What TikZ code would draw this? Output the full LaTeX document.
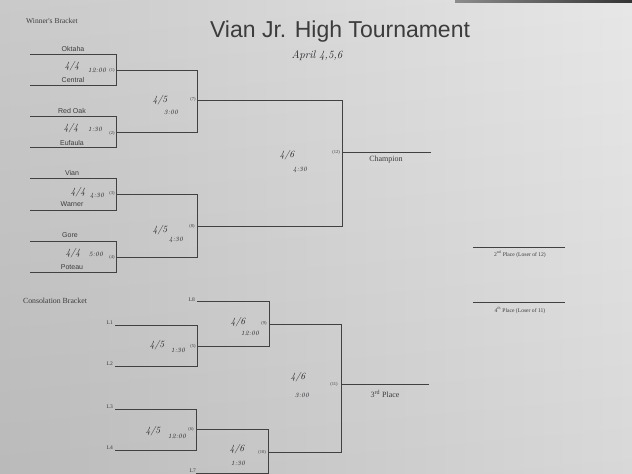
\documentclass[tikz,border=0pt]{standalone}
\usepackage{fontspec}
\setsansfont{Liberation Sans}
\newfontfamily\tnr{Liberation Serif}
\definecolor{bgL}{RGB}{198,198,198}
\definecolor{bgM}{RGB}{218,218,218}
\definecolor{bgR}{RGB}{231,230,231}
\definecolor{lineC}{RGB}{65,65,65}
\definecolor{textC}{RGB}{60,60,60}
\definecolor{handC}{RGB}{35,35,40}
\newcommand\bracketpath[5]{%
  \coordinate (#1a) at (#2,#4);
  \coordinate (#1b) at (#3,#4);
  \coordinate (#1c) at (#3,#5);
  \coordinate (#1d) at (#2,#5);
  \draw[bline] (#1a) -- (#1b) -- (#1c) -- (#1d);}
\tikzset{
  bline/.style={draw=lineC,line width=0.8pt},
  team/.style={inner sep=0pt,text=textC,font=\fontsize{7}{8}\selectfont\sffamily},
  hand/.style={inner sep=0pt,text=handC,font=\fontsize{9.5}{10}\selectfont\itshape},
  handsm/.style={inner sep=0pt,text=handC,font=\fontsize{6.5}{7}\selectfont\itshape},
  gnum/.style={inner sep=0pt,text=textC,font=\fontsize{4.5}{5}\selectfont\tnr},
  llab/.style={inner sep=0pt,text=textC,font=\fontsize{5.5}{6}\selectfont\tnr},
  serlab/.style={inner sep=0pt,text=textC,font=\fontsize{8}{9}\selectfont\tnr},
  smlab/.style={inner sep=0pt,text=textC,font=\fontsize{6.3}{7}\selectfont\tnr},
}
\begin{document}
\begin{tikzpicture}[x=1pt,y=-1pt]
\useasboundingbox (0,0) rectangle (632,474);
\shade[left color=bgL,middle color=bgM,right color=bgR] (0,0) rectangle (632,474);
\shade[top color=white,bottom color=black,opacity=0.06] (0,0) rectangle (632,474);
\shade[left color=black!45,right color=black!80] (455,0) rectangle (632,2.2);

% title
\node[anchor=base,inner sep=0pt,text=textC,font=\fontsize{23}{26}\selectfont\sffamily] (title) at (340,37) {Vian Jr. High Tournament};
\node[hand,font=\fontsize{11}{12}\selectfont\itshape] (dates) at (317,56) {April 4,5,6};

% winner's bracket
\node[serlab,font=\fontsize{7.5}{8}\selectfont\tnr] (wb) at (52,21) {Winner's Bracket};
\bracketpath{m1}{30}{116}{54}{85}
\bracketpath{m2}{30}{116}{116}{147}
\bracketpath{m3}{30}{116}{178}{210}
\bracketpath{m4}{30}{116}{241}{272}
\bracketpath{m7}{116}{197}{70}{132}
\bracketpath{m8}{116}{197}{194}{257}
\bracketpath{m12}{197}{342}{100}{226}
\coordinate (ch0) at (342,152);
\coordinate (ch1) at (431,152);
\draw[bline] (ch0) -- (ch1);

\node[team] (t1) at (73,49) {Oktaha};
\node[team] (t2) at (73,80) {Central};
\node[team] (t3) at (72,111) {Red Oak};
\node[team] (t4) at (72,143) {Eufaula};
\node[team] (t5) at (72,173) {Vian};
\node[team] (t6) at (72,204) {Warner};
\node[team] (t7) at (70,235) {Gore};
\node[team] (t8) at (72,267) {Poteau};

\node[hand] (d1) at (72,66) {4/4};
\node[handsm] (h1) at (97,70) {12:00};
\node[gnum] (g1) at (112,70) {(1)};
\node[hand] (d2) at (71,128) {4/4};
\node[handsm] (h2) at (95,129) {1:30};
\node[gnum] (g2) at (112,133) {(2)};
\node[hand] (d3) at (78,192) {4/4};
\node[handsm] (h3) at (97,196) {4:30};
\node[gnum] (g3) at (112,193) {(3)};
\node[hand] (d4) at (73,253) {4/4};
\node[handsm] (h4) at (96,254) {5:00};
\node[gnum] (g4) at (112,257) {(4)};

\node[hand] (d7) at (160,100) {4/5};
\node[handsm] (h7) at (171,112) {3:00};
\node[gnum] (g7) at (193,99) {(7)};
\node[hand] (d8) at (160,230) {4/5};
\node[handsm] (h8) at (176,240) {4:30};
\node[gnum] (g8) at (192,226) {(8)};
\node[hand] (d12) at (287,155) {4/6};
\node[handsm] (h12) at (300,170) {4:30};
\node[gnum] (g12) at (336,152) {(12)};
\node[serlab] (champ) at (386,160) {Champion};

% places
\coordinate (p2a) at (473,247);
\coordinate (p2b) at (565,247);
\draw[bline,line width=0.6pt] (p2a) -- (p2b);
\node[smlab,font=\fontsize{5.6}{6}\selectfont\tnr] (p2) at (520,254) {2\textsuperscript{nd} Place (Loser of 12)};
\coordinate (p4a) at (473,302);
\coordinate (p4b) at (565,302);
\draw[bline,line width=0.6pt] (p4a) -- (p4b);
\node[smlab,font=\fontsize{5.6}{6}\selectfont\tnr] (p4) at (520,310) {4\textsuperscript{th} Place (Loser of 11)};

% consolation bracket
\node[serlab,font=\fontsize{7.8}{8}\selectfont\tnr] (cb) at (55,301) {Consolation Bracket};
\bracketpath{m5}{115}{197}{325}{366}
\bracketpath{m6}{115}{196}{409}{450}
\bracketpath{m9}{197}{269}{301}{346}
\bracketpath{m10}{196}{268}{429}{473}
\bracketpath{m11}{269}{341}{324}{452}
\coordinate (th0) at (341,384);
\coordinate (th1) at (429,384);
\draw[bline] (th0) -- (th1);

\node[llab,anchor=east] (l8) at (195,300) {L8};
\node[llab,anchor=east] (l1) at (113,323) {L1};
\node[llab,anchor=east] (l2) at (113,364) {L2};
\node[llab,anchor=east] (l3) at (113,407) {L3};
\node[llab,anchor=east] (l4) at (113,448) {L4};
\node[llab,anchor=east] (l7) at (196,471) {L7};

\node[hand] (d5) at (157,345) {4/5};
\node[handsm] (h5) at (178,350) {1:30};
\node[gnum] (g5) at (193,346) {(5)};
\node[hand] (d6) at (153,431) {4/5};
\node[handsm] (h6) at (177,436) {12:00};
\node[gnum] (g6) at (191,429) {(6)};
\node[hand] (d9) at (238,322) {4/6};
\node[handsm] (h9) at (250,333) {12:00};
\node[gnum] (g9) at (264,323) {(9)};
\node[hand] (d10) at (237,449) {4/6};
\node[handsm] (h10) at (238,463) {1:30};
\node[gnum] (g10) at (262,452) {(10)};
\node[hand] (d11) at (298,377) {4/6};
\node[handsm] (h11) at (302,395) {3:00};
\node[gnum] (g11) at (334,384) {(11)};
\node[serlab] (third) at (385,394) {3\textsuperscript{rd} Place};
\end{tikzpicture}
\end{document}
